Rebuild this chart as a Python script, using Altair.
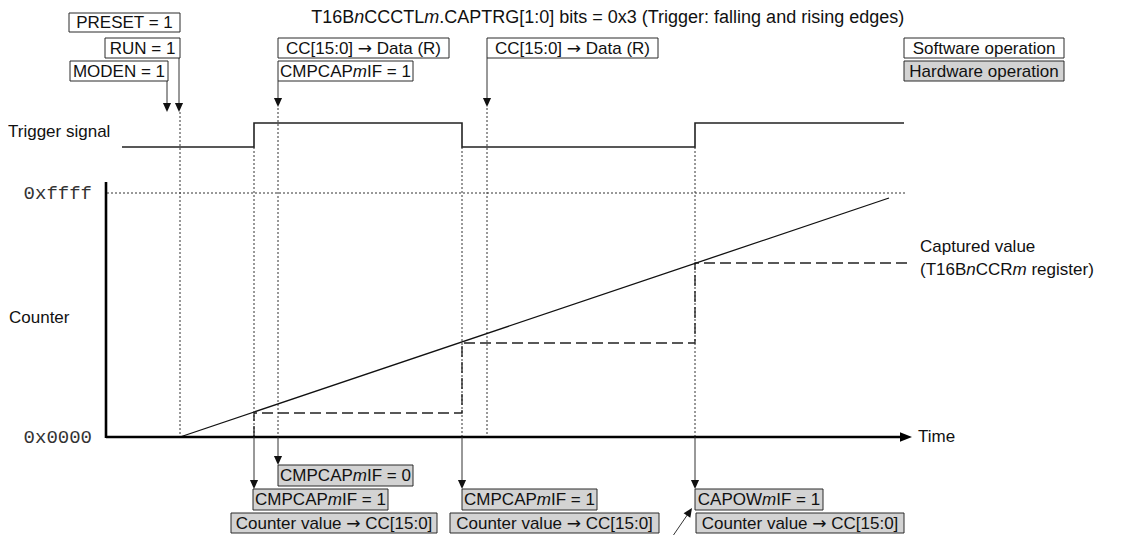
import altair as alt
import pandas as pd

# ---------------- data (page-pixel coordinates) ----------------
# trigger signal waveform
trig_x = [122, 254, 254, 462, 462, 695, 695, 904]
trig_y = [147, 147, 123, 123, 147, 147, 123, 123]
# counter ramp
ramp_x = [180, 889]
ramp_y = [437, 198]
# captured value staircase (dashed)
cap_x = [254, 254, 462, 462, 695, 695, 907]
cap_y = [437, 413, 413, 343, 343, 263, 263]

# axes (counter / time)
ax_x1 = [106, 106]
ax_y1 = [182, 437]
ax_x2 = [106, 905]
ax_y2 = [438, 437]

# dotted guide lines
dot_x1 = [180, 254, 278, 462, 487, 695, 107]
dot_y1 = [112, 147, 108, 147, 108, 147, 193]
dot_x2 = [180, 254, 278, 462, 487, 695, 905]
dot_y2 = [437, 437, 437, 437, 437, 437, 193]

# box rows (top, bottom)
rows = {"1": (13, 32), "2": (38, 58), "3": (61, 81),
        "A": (465, 486), "B": (489, 510), "C": (513, 533)}

# boxes: label (*...* = italic, ~...~ = arrow glyph), left, right, row, kind
box_label = ["PRESET = 1", "RUN = 1", "MODEN = 1",
             "CC[15:0] ~\u2192~ Data (R)", "CMPCAP*m*IF = 1", "CC[15:0] ~\u2192~ Data (R)",
             "Software operation", "Hardware operation",
             "CMPCAP*m*IF = 0", "CMPCAP*m*IF = 1", "Counter value ~\u2192~ CC[15:0]",
             "CMPCAP*m*IF = 1", "Counter value ~\u2192~ CC[15:0]",
             "CAPOW*m*IF = 1", "Counter value ~\u2192~ CC[15:0]"]
box_x1 = [69, 105, 70, 278, 278, 487, 904, 904, 278, 253, 231, 462, 450, 695, 696]
box_x2 = [180, 180, 168, 449, 413, 658, 1064, 1064, 413, 388, 437, 597, 659, 823, 904]
box_row = ["1", "2", "3", "2", "3", "2", "2", "3", "A", "B", "C", "B", "C", "B", "C"]
box_kind = ["sw", "sw", "sw", "sw", "sw", "sw", "sw", "hw",
            "hw", "hw", "hw", "hw", "hw", "hw", "hw"]

# arrows: stem start -> tip
arr_x1 = [167, 179, 278, 487, 254, 278, 462, 695]
arr_y1 = [81, 58, 81, 58, 437, 437, 437, 437]
arr_tip = [112, 112, 107, 107, 489, 465, 489, 489]

# diagonal pointer arrow (start -> tip)
diag_x = [668, 692]
diag_y = [543, 508]

# free text labels
free_label = ["T16B*n*CCCTL*m*.CAPTRG[1:0] bits = 0x3 (Trigger: falling and rising edges)",
              "Trigger signal", "Counter", "Time", "Captured value",
              "(T16B*n*CCR*m* register)"]
free_x = [608, 8, 9, 918, 920, 920]
free_y = [18, 132, 318, 437, 247, 270]
free_align = ["center", "left", "left", "left", "left", "left"]
free_size = [18, 17, 17, 17, 17, 17]

mono_label = ["0xffff", "0x0000"]
mono_x = [92, 92]
mono_y = [193, 437]

FS = 17
# Arial / Liberation Sans advance widths (1/1000 em); arrow measured in DejaVu Sans
AW = {' ': 278, '(': 333, ')': 333, '.': 278, ':': 278, '=': 584, '[': 278, ']': 278,
      'A': 667, 'B': 667, 'C': 722, 'D': 722, 'E': 667, 'F': 611, 'G': 778, 'H': 722,
      'I': 278, 'L': 556, 'M': 833, 'N': 722, 'O': 778, 'P': 667, 'R': 722, 'S': 667,
      'T': 611, 'U': 722, 'W': 944, 'a': 556, 'b': 556, 'c': 500, 'd': 556, 'e': 556,
      'f': 278, 'g': 556, 'h': 556, 'i': 222, 'l': 222, 'm': 833, 'n': 556, 'o': 556,
      'p': 556, 'r': 333, 's': 500, 't': 278, 'u': 556, 'v': 500, 'w': 722, 'x': 500,
      'y': 500, '\u2192': 838}


def tw(s, size):
    return sum(AW.get(c, 556) for c in s) * size / 1000.0


def runs(label):
    out, cur, style = [], "", "normal"
    for ch in label:
        if ch in "*~":
            if cur:
                out.append((cur, style))
            cur = ""
            new = "italic" if ch == "*" else "arrow"
            style = "normal" if style == new else new
        else:
            cur += ch
    if cur:
        out.append((cur, style))
    return out


texts = []  # x, y, text, style, align, size


def place(label, x, y, align, size=FS):
    rs = runs(label)
    if len(rs) == 1 and rs[0][1] == "normal":
        texts.append(dict(x=x, y=y, text=rs[0][0], style="normal", align=align, size=size))
        return
    total = sum(tw(p, size) for p, _ in rs)
    x0 = x - total / 2 if align == "center" else x
    for p, st in rs:
        lead = len(p) - len(p.lstrip(" "))
        body = p.strip(" ")
        if body:
            texts.append(dict(x=x0 + tw(" " * lead, size), y=y, text=body, style=st,
                              align="left", size=size))
        x0 += tw(p, size)


for lab, a, b, r in zip(box_label, box_x1, box_x2, box_row):
    place(lab, (a + b) / 2, (rows[r][0] + rows[r][1]) / 2 + 0.5, "center")
for lab, x, y, al, sz in zip(free_label, free_x, free_y, free_align, free_size):
    place(lab, x, y, al, sz)

# ---------------- frames ----------------
X = alt.Scale(domain=[8, 1125], nice=False, zero=False)
Y = alt.Scale(domain=[8, 535], nice=False, zero=False, reverse=True)


def xe(f="x"):
    return alt.X(f"{f}:Q", scale=X, axis=None)


def ye(f="y"):
    return alt.Y(f"{f}:Q", scale=Y, axis=None)


def seg_df(x1, y1, x2, y2):
    return pd.DataFrame({"x": x1, "y": y1, "x2": x2, "y2": y2})


def rules(df, **kw):
    return alt.Chart(df).mark_rule(**kw).encode(
        x=xe(), y=ye(), x2=alt.X2("x2:Q"), y2=alt.Y2("y2:Q"))


layers = []

# boxes
bdf = pd.DataFrame({
    "x": box_x1, "x2": box_x2,
    "y": [rows[r][0] for r in box_row], "y2": [rows[r][1] for r in box_row],
    "kind": box_kind})
layers.append(alt.Chart(bdf).mark_rect(stroke="#2a2a2a", strokeWidth=1).encode(
    x=xe(), x2="x2:Q", y=ye(), y2="y2:Q",
    fill=alt.Fill("kind:N", scale=alt.Scale(domain=["sw", "hw"], range=["#ffffff", "#d3d3d3"]),
                  legend=None)))

# dotted guides
layers.append(rules(seg_df(dot_x1, dot_y1, dot_x2, dot_y2),
                    color="#333333", strokeWidth=1, strokeDash=[2, 2]))

# captured staircase
layers.append(alt.Chart(pd.DataFrame({"x": cap_x, "y": cap_y, "o": range(len(cap_x))}))
              .mark_line(color="#222222", strokeWidth=1.3, strokeDash=[11, 5])
              .encode(x=xe(), y=ye(), order="o:Q"))

# counter ramp
layers.append(alt.Chart(pd.DataFrame({"x": ramp_x, "y": ramp_y, "o": [0, 1]}))
              .mark_line(color="#111111", strokeWidth=1.3)
              .encode(x=xe(), y=ye(), order="o:Q"))

# trigger waveform
layers.append(alt.Chart(pd.DataFrame({"x": trig_x, "y": trig_y, "o": range(len(trig_x))}))
              .mark_line(color="#222222", strokeWidth=1.6)
              .encode(x=xe(), y=ye(), order="o:Q"))

# axes
layers.append(rules(seg_df(ax_x1, ax_y1, ax_x2, ax_y2), color="#000000", strokeWidth=2.6))
layers.append(alt.Chart(pd.DataFrame({"x": [906], "y": [437]}))
              .mark_point(shape="M-1,-0.8L1,0L-1,0.8Z", size=144, filled=True,
                          color="#000000", opacity=1)
              .encode(x=xe(), y=ye()))

# arrow stems and heads
HEAD = 4.5
layers.append(rules(seg_df(arr_x1, arr_y1, arr_x1, [t - 2 * HEAD + 1 for t in arr_tip]),
                    color="#333333", strokeWidth=1))
layers.append(alt.Chart(pd.DataFrame({"x": arr_x1, "y": [t - HEAD for t in arr_tip]}))
              .mark_point(shape="M-0.9,-1L0.9,-1L0,1Z", size=81, filled=True,
                          color="#111111", opacity=1)
              .encode(x=xe(), y=ye()))

# diagonal pointer
layers.append(rules(seg_df([diag_x[0]], [diag_y[0]], [diag_x[1] - 2], [diag_y[1] + 3]),
                    color="#333333", strokeWidth=1))
layers.append(alt.Chart(pd.DataFrame({"x": [diag_x[1] - 2.5], "y": [diag_y[1] + 3.7]}))
              .mark_point(shape="M-0.9,1L0.9,1L0,-1Z", size=81, filled=True,
                          color="#111111", opacity=1, angle=34)
              .encode(x=xe(), y=ye()))

# texts
tdf = pd.DataFrame(texts)
fonts = {"normal": ("Liberation Sans", "normal"), "italic": ("Liberation Sans", "italic"),
         "arrow": ("DejaVu Sans", "normal")}
for style, (fnt, fst) in fonts.items():
    for al in ["left", "center"]:
        sub = tdf[(tdf["style"] == style) & (tdf["align"] == al)]
        if len(sub) == 0:
            continue
        layers.append(alt.Chart(sub).mark_text(
            font=fnt, fontStyle=fst, align=al, baseline="middle", color="#111111")
            .encode(x=xe(), y=ye(), text="text:N", size=alt.Size("size:Q", scale=None)))

layers.append(alt.Chart(pd.DataFrame({"x": mono_x, "y": mono_y, "text": mono_label}))
              .mark_text(font="Liberation Mono", fontSize=19, align="right",
                         baseline="middle", color="#333333")
              .encode(x=xe(), y=ye(), text="text:N"))

chart = alt.layer(*layers).properties(
    width=1117, height=527, padding=0, autosize="none", background="#ffffff"
).configure_view(stroke=None)

chart.save("out.html", embed_options={"renderer": "svg", "actions": False})
